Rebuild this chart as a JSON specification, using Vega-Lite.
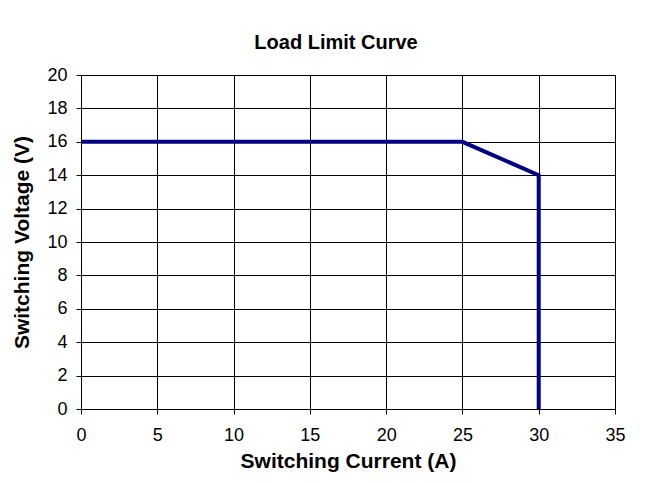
{
  "$schema": "https://vega.github.io/schema/vega-lite/v6.json",
  "width": 534,
  "height": 334,
  "autosize": "none",
  "padding": {"left": 81, "top": 75, "right": 42, "bottom": 74},
  "background": "white",
  "title": {"text": "Load Limit Curve", "font": "Liberation Sans", "fontSize": 20, "fontWeight": "bold", "color": "black", "offset": 13, "anchor": "middle", "dx": -12},
  "data": {"values": [
    {"current": 0, "voltage": 16, "order": 1},
    {"current": 25, "voltage": 16, "order": 2},
    {"current": 30, "voltage": 14, "order": 3},
    {"current": 30, "voltage": 0, "order": 4}
  ]},
  "mark": {"type": "line", "color": "#000080", "strokeWidth": 4, "clip": false},
  "encoding": {
    "x": {"field": "current", "type": "quantitative", "scale": {"domain": [0, 35], "nice": false},
      "axis": {"title": "Switching Current (A)", "values": [0,5,10,15,20,25,30,35], "titlePadding": 6, "labelFlush": false}},
    "y": {"field": "voltage", "type": "quantitative", "scale": {"domain": [0, 20], "nice": false},
      "axis": {"title": "Switching Voltage (V)", "values": [0,2,4,6,8,10,12,14,16,18,20], "titlePadding": 14, "labelFlush": false}},
    "order": {"field": "order"}
  },
  "config": {
    "view": {"stroke": "black", "strokeWidth": 1},
    "axis": {
      "labelFont": "Liberation Sans", "labelFontSize": 18, "labelColor": "black",
      "titleFont": "Liberation Sans", "titleFontSize": 21, "titleFontWeight": "bold", "titleColor": "black",
      "domainColor": "black", "tickColor": "black", "tickSize": 5,
      "gridColor": "black", "gridOpacity": 1, "gridWidth": 1
    },
    "axisX": {"labelPadding": 12},
    "axisY": {"labelPadding": 9}
  }
}
